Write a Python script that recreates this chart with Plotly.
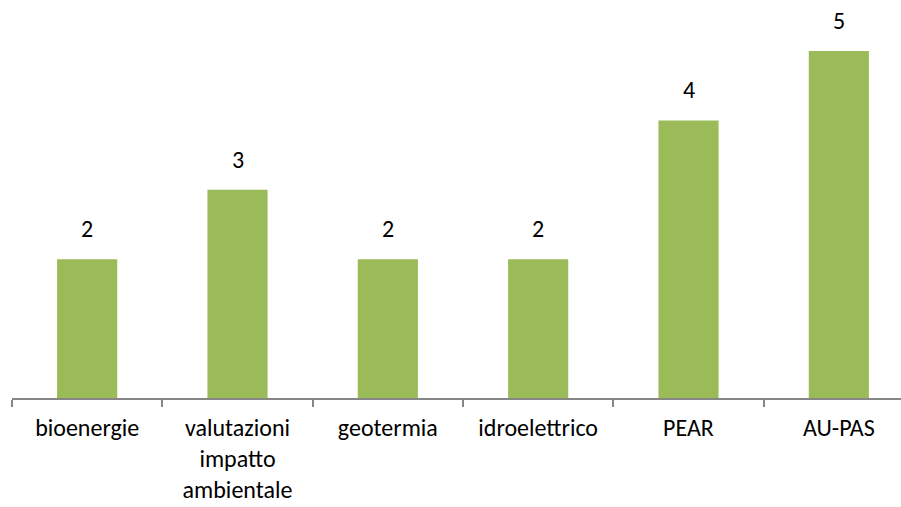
import plotly.graph_objects as go

categories = ["bioenergie", "valutazioni<br>impatto<br>ambientale", "geotermia", "idroelettrico", "PEAR", "AU-PAS"]
values = [2, 3, 2, 2, 4, 5]
value_labels = [str(v) for v in values]

font_family = "Carlito, Lato, 'Open Sans', sans-serif"

fig = go.Figure(go.Bar(
    x=categories,
    y=values,
    marker=dict(color="#9BBB59", line=dict(width=0)),
    hoverinfo="skip",
))

for c, v, t in zip(categories, values, value_labels):
    fig.add_annotation(
        x=c, y=v, text=t, showarrow=False,
        yanchor="bottom", yshift=14,
        font=dict(size=24, color="#000000", family=font_family),
    )

unit = 69.4
plot_top = 10
axis_y = 398
yrange_top = (axis_y - plot_top) / unit

fig.update_layout(
    width=901, height=507,
    margin=dict(l=12, r=0, t=plot_top, b=507 - axis_y),
    paper_bgcolor="white", plot_bgcolor="white",
    bargap=0.6,
    showlegend=False,
    font=dict(family=font_family, size=24, color="#000000"),
)
fig.update_xaxes(
    range=[-0.5, 5.5 - 13 / 150.3],
    automargin=False,
    showline=True, linecolor="#868686", linewidth=1.5,
    ticks="outside", tickson="boundaries", ticklen=7, tickcolor="#868686", tickwidth=1.5,
    tickfont=dict(size=24, family=font_family, color="#000000"),
    ticklabelstandoff=7,
    showgrid=False,
)
fig.update_yaxes(
    range=[0, yrange_top], visible=False, showgrid=False, automargin=False,
)

fig.write_html("out.html", config={"displayModeBar": False},
               post_script="document.body.style.margin='0';")
